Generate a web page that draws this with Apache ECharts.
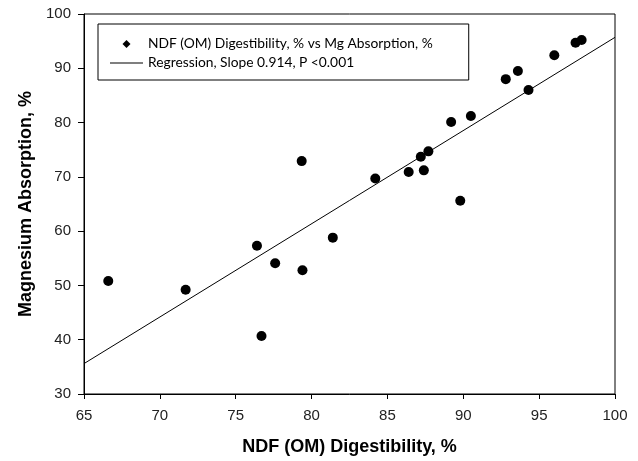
<!DOCTYPE html>
<html>
<head>
<meta charset="utf-8">
<script src="https://cdn.jsdelivr.net/npm/echarts@6/dist/echarts.min.js"></script>
<style>html,body{margin:0;padding:0;background:#fff;}#chart{width:638px;height:461px;}</style>
</head>
<body>
<div id="chart"></div>
<script>
// NDF (OM) digestibility, % (x) vs magnesium absorption, % (y)
var ndfDigestibility = [66.6, 71.7, 76.4, 76.7, 77.6, 79.35, 79.4, 81.4, 84.2, 86.4, 87.2, 87.4, 87.7, 89.2, 89.8, 90.5, 92.8, 93.6, 94.3, 96.0, 97.4, 97.8];
var mgAbsorption     = [50.8, 49.2, 57.3, 40.7, 54.1, 72.9, 52.8, 58.8, 69.7, 70.9, 73.7, 71.2, 74.7, 80.1, 65.6, 81.2, 88.0, 89.5, 86.0, 92.4, 94.7, 95.2];
// regression line end points as drawn
var regressionX = [65, 100];
var regressionY = [35.6, 95.7];
var xTicks = [65, 70, 75, 80, 85, 90, 95, 100];
var yTicks = [30, 40, 50, 60, 70, 80, 90, 100];
var scatterName = 'NDF (OM) Digestibility, % vs Mg Absorption, %';
var lineName = 'Regression, Slope 0.914, P <0.001';

var points = ndfDigestibility.map(function (x, i) { return [x, mgAbsorption[i]]; });
var regLine = regressionX.map(function (x, i) { return [x, regressionY[i]]; });

var chart = echarts.init(document.getElementById('chart'), null, {renderer: 'canvas'});
var axisFont = {fontFamily: 'Liberation Sans', fontSize: 15, color: '#222'};
var titleFont = {fontFamily: 'Liberation Sans', fontSize: 18, fontWeight: 'bold', color: '#000'};
chart.setOption({
  animation: false,
  backgroundColor: '#fff',
  grid: {left: 84, right: 23, top: 14, bottom: 64, show: true, borderColor: '#000', borderWidth: 1, backgroundColor: 'transparent'},
  legend: {
    orient: 'vertical',
    left: 98, top: 24,
    borderColor: '#000', borderWidth: 1,
    padding: [13, 36, 10, 12],
    itemWidth: 33, itemHeight: 8, itemGap: 5,
    symbolKeepAspect: true,
    textStyle: {fontFamily: 'Lato', fontSize: 13.8, color: '#000', lineHeight: 14},
    data: [
      {name: scatterName, icon: 'path://M4,0 L8,4 L4,8 L0,4 Z', symbolKeepAspect: true, itemStyle: {color: '#000', opacity: 1}},
      {name: lineName, icon: 'path://M0,0 L33,0 L33,1 L0,1 Z', symbolKeepAspect: true, itemStyle: {color: '#000'}}
    ]
  },
  xAxis: {
    type: 'value', min: xTicks[0], max: xTicks[xTicks.length - 1], interval: xTicks[1] - xTicks[0],
    name: 'NDF (OM) Digestibility, %', nameLocation: 'middle', nameGap: 44,
    nameTextStyle: titleFont,
    axisLine: {show: true, onZero: false, lineStyle: {color: '#000', width: 1}},
    axisTick: {show: true, inside: false, length: 5, lineStyle: {color: '#000'}},
    axisLabel: Object.assign({margin: 14}, axisFont),
    splitLine: {show: false}
  },
  yAxis: {
    type: 'value', min: yTicks[0], max: yTicks[yTicks.length - 1], interval: yTicks[1] - yTicks[0],
    name: 'Magnesium Absorption, %', nameLocation: 'middle', nameGap: 47,
    nameTextStyle: titleFont,
    axisLine: {show: true, onZero: false, lineStyle: {color: '#000', width: 1}},
    axisTick: {show: true, inside: false, length: 6, lineStyle: {color: '#000'}},
    axisLabel: Object.assign({margin: 13}, axisFont),
    splitLine: {show: false}
  },
  series: [
    {
      name: scatterName, type: 'scatter', data: points,
      symbol: 'circle', symbolSize: 10,
      itemStyle: {color: '#000', opacity: 1}
    },
    {
      name: lineName, type: 'line', data: regLine,
      symbol: 'none', showSymbol: false,
      lineStyle: {color: '#000', width: 1},
      itemStyle: {color: '#000'}
    }
  ]
});
</script>
</body>
</html>
